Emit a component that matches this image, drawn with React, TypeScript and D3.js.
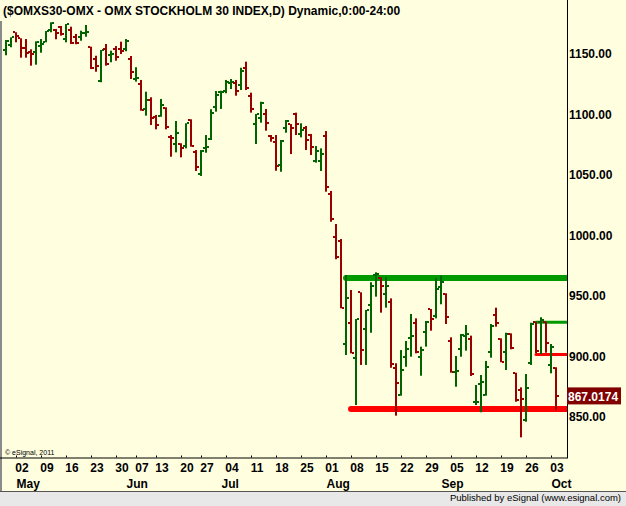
import { useEffect, useRef } from "react";
import * as d3 from "d3";

// OHLC, one entry per trading day, 27 Apr 2011 .. 03 Oct 2011
const opens = [
  1153.1, 1157.3, 1167.8, 1162.8, 1154.8, 1151.2, 1151.2, 1156.7, 1159.5, 1169.7,
  1169.7, 1172.4, 1162.2, 1169.7, 1164.1, 1164.1, 1167.0, 1155.9, 1146.0, 1127.8,
  1153.7, 1149.0, 1153.7, 1153.7, 1154.0, 1145.5, 1129.5, 1125.1, 1104.2, 1111.8,
  1098.0, 1098.9, 1105.0, 1081.0, 1075.5, 1075.5, 1073.8, 1095.3, 1069.1, 1050.7,
  1072.5, 1079.6, 1105.8, 1118.2, 1119.5, 1126.1, 1126.1, 1124.2, 1138.0, 1115.1,
  1091.8, 1096.7, 1100.3, 1082.4, 1076.9, 1058.2, 1088.5, 1092.0, 1100.3, 1083.5,
  1088.5, 1082.9, 1061.7, 1061.5, 1082.1, 1034.2, 998.4, 995.6, 910.1, 927.4,
  898.5, 953.0, 922.4, 942.5, 967.3, 964.6, 951.4, 945.2, 890.2, 868.2,
  899.8, 915.0, 927.4, 899.8, 920.0, 939.0, 933.4, 957.1, 951.4, 912.8,
  887.0, 905.9, 916.9, 914.2, 862.2, 877.3, 868.2, 903.4, 934.3, 914.4,
  903.4, 918.6, 886.1, 872.3, 847.5, 894.4, 928.7, 928.7, 928.7, 893.0,
  890.2,
];
const highs = [
  1161.4, 1163.6, 1167.8, 1162.8, 1162.2, 1153.7, 1160.3, 1162.2, 1168.8, 1176.0,
  1170.5, 1173.0, 1174.6, 1172.4, 1166.4, 1169.1, 1173.8, 1155.9, 1148.4, 1153.1,
  1158.1, 1152.6, 1156.4, 1160.0, 1162.2, 1148.2, 1138.9, 1128.4, 1118.7, 1114.1,
  1099.5, 1112.7, 1105.8, 1082.9, 1094.5, 1076.1, 1092.6, 1095.9, 1070.5, 1070.5,
  1082.9, 1104.2, 1119.3, 1119.5, 1128.4, 1129.2, 1128.4, 1138.5, 1143.5, 1117.9,
  1100.3, 1110.4, 1104.4, 1082.9, 1082.9, 1078.8, 1095.3, 1092.0, 1101.4, 1092.6,
  1090.4, 1083.8, 1073.8, 1071.9, 1086.2, 1036.7, 1009.4, 997.0, 967.3, 954.9,
  930.9, 953.0, 938.4, 961.3, 969.5, 965.4, 965.4, 948.0, 894.4, 905.3,
  912.8, 935.1, 931.5, 908.1, 929.3, 939.2, 964.6, 966.7, 952.2, 915.8,
  900.4, 918.6, 926.0, 917.2, 876.4, 884.7, 896.3, 926.8, 940.3, 915.0,
  919.6, 919.1, 886.6, 874.5, 885.5, 927.9, 928.7, 932.4, 928.7, 910.3,
  891.1,
];
const lows = [
  1148.8, 1155.4, 1159.5, 1146.8, 1146.8, 1140.2, 1141.0, 1150.9, 1159.5, 1167.8,
  1162.0, 1165.0, 1159.5, 1158.1, 1157.9, 1160.8, 1164.1, 1137.4, 1135.2, 1126.5,
  1140.2, 1143.0, 1144.3, 1149.8, 1152.1, 1129.2, 1127.0, 1103.0, 1098.9, 1091.2,
  1087.6, 1098.0, 1087.6, 1065.0, 1068.6, 1064.5, 1071.9, 1073.3, 1053.2, 1049.1,
  1068.3, 1078.8, 1102.2, 1104.4, 1117.4, 1120.9, 1115.4, 1120.1, 1120.1, 1101.4,
  1075.5, 1093.1, 1086.5, 1077.4, 1053.4, 1052.6, 1084.8, 1067.2, 1082.9, 1081.0,
  1070.5, 1066.4, 1060.1, 1053.2, 1036.1, 1011.3, 980.3, 939.8, 901.2, 902.6,
  859.9, 893.0, 893.0, 919.6, 949.4, 936.2, 940.3, 890.7, 851.1, 867.6,
  891.5, 899.8, 902.6, 884.1, 908.1, 921.3, 931.5, 943.1, 926.8, 886.6,
  875.0, 899.8, 904.8, 883.9, 859.9, 853.9, 867.6, 899.0, 924.6, 895.2,
  888.8, 905.9, 862.6, 833.2, 846.1, 893.0, 902.6, 902.0, 903.1, 886.1,
  855.8,
];
const closes = [
  1160.6, 1163.6, 1164.7, 1154.5, 1150.7, 1149.8, 1159.5, 1158.1, 1168.8, 1175.2,
  1166.9, 1166.4, 1174.4, 1158.7, 1159.2, 1167.4, 1168.0, 1138.0, 1140.2, 1153.1,
  1141.3, 1149.8, 1147.6, 1152.3, 1160.8, 1134.7, 1130.0, 1103.6, 1111.8, 1096.7,
  1091.2, 1107.7, 1089.8, 1080.2, 1084.3, 1071.9, 1092.6, 1073.8, 1056.7, 1070.0,
  1073.0, 1101.4, 1116.0, 1118.7, 1126.5, 1126.5, 1119.5, 1135.8, 1121.5, 1104.2,
  1100.0, 1109.6, 1092.6, 1080.2, 1057.3, 1078.2, 1094.7, 1088.5, 1091.8, 1087.1,
  1078.8, 1072.8, 1069.7, 1067.0, 1039.7, 1013.3, 982.4, 939.8, 948.0, 902.6,
  930.9, 905.3, 938.4, 958.2, 968.1, 958.2, 958.2, 893.5, 877.8, 888.8,
  905.9, 916.9, 903.4, 905.3, 928.7, 930.7, 955.5, 961.8, 932.4, 887.4,
  888.0, 917.7, 918.6, 885.3, 862.8, 878.7, 891.1, 925.2, 927.4, 895.7,
  918.6, 906.7, 864.0, 864.6, 874.2, 926.8, 904.8, 930.1, 910.9, 907.6,
  867.0174,
];

// weekly date labels (bar index, label) and month labels
const weekIdx = [3, 8, 13, 18, 23, 27, 31, 36, 40, 45, 50, 55, 60, 65, 70, 75, 80, 85, 90, 95, 100, 105, 110];
const weekLabels = ["02", "09", "16", "23", "30", "07", "13", "20", "27", "04", "11", "18", "25", "01", "08", "15", "22", "29", "05", "12", "19", "26", "03"];
const monthIdx = [3, 25, 44, 65, 88, 110];
const monthLabels = ["May", "Jun", "Jul", "Aug", "Sep", "Oct"];

const priceTicks = [850, 900, 950, 1000, 1050, 1100, 1150];

// drawn horizontal levels: price and starting bar
const levelValues = [964.8, 856.6, 928.2, 901.6];
const levelStarts = [68, 69, 106, 106];

const W = 626;
const H = 506;
const FONT = "'Liberation Sans', Arial, sans-serif";
const COLORS = {
  bg: "#FFFFE0",
  up: "#006400",
  down: "#990000",
  levelUp: "#009900",
  levelDown: "#FF0000",
  lastBox: "#800000",
  footer: "#E8E8E8",
};
const levelColors = [COLORS.levelUp, COLORS.levelDown, COLORS.levelUp, COLORS.levelDown];
const levelWidths = [6, 6, 3, 3];

const plot = { left: 2, right: 567, top: 21, bottom: 457.5 };

export default function App() {
  const svgRef = useRef<SVGSVGElement>(null);

  useEffect(() => {
    if (!svgRef.current) return;
    const svg = d3.select(svgRef.current);
    svg.selectAll("*").remove();

    const x = d3.scaleLinear().domain([0, 110]).range([6, 556]);
    const y = d3.scaleLinear().domain([850, 1150]).range([417, 53.8]);

    // background + footer
    svg.append("rect").attr("width", W).attr("height", H).attr("fill", COLORS.bg);
    svg.append("rect").attr("x", 0).attr("y", 491).attr("width", W).attr("height", H - 491).attr("fill", COLORS.footer);
    svg.append("line").attr("x1", 0).attr("x2", W).attr("y1", 491.5).attr("y2", 491.5).attr("stroke", "#555").attr("stroke-width", 1);
    svg.append("rect").attr("x", 0).attr("y", plot.top).attr("width", 2).attr("height", 491 - plot.top).attr("fill", "#8a8a8a");

    svg.append("text")
      .attr("x", 3).attr("y", 15)
      .attr("font-family", FONT).attr("font-size", 12).attr("font-weight", "bold")
      .attr("fill", "#000")
      .text("($OMXS30-OMX - OMX STOCKHOLM 30 INDEX,D) Dynamic,0:00-24:00");

    svg.append("defs").append("clipPath").attr("id", "plotClip")
      .append("rect")
      .attr("x", plot.left).attr("y", plot.top)
      .attr("width", plot.right - plot.left).attr("height", plot.bottom - plot.top);

    const g = svg.append("g").attr("clip-path", "url(#plotClip)");

    // level lines under the bars
    levelValues.forEach((v, i) => {
      g.append("line")
        .attr("x1", x(levelStarts[i])).attr("x2", plot.right + 10)
        .attr("y1", y(v)).attr("y2", y(v))
        .attr("stroke", levelColors[i])
        .attr("stroke-width", levelWidths[i])
        .attr("stroke-linecap", "round");
    });

    // OHLC bars
    const bars = g.append("g");
    closes.forEach((c, i) => {
      const color = c >= opens[i] ? COLORS.up : COLORS.down;
      const cx = x(i);
      bars.append("rect")
        .attr("x", cx - 1).attr("y", y(highs[i]))
        .attr("width", 2).attr("height", Math.max(1, y(lows[i]) - y(highs[i])))
        .attr("fill", color);
      bars.append("rect")
        .attr("x", cx - 3).attr("y", Math.round(y(opens[i])) - 1)
        .attr("width", 2).attr("height", 2).attr("fill", color);
      bars.append("rect")
        .attr("x", cx + 1).attr("y", Math.round(y(c)) - 1)
        .attr("width", 2).attr("height", 2).attr("fill", color);
    });

    // axes frame
    svg.append("line")
      .attr("x1", plot.right + 0.5).attr("x2", plot.right + 0.5)
      .attr("y1", 0).attr("y2", plot.bottom + 0.5)
      .attr("stroke", "#000").attr("stroke-width", 1);
    svg.append("line")
      .attr("x1", 0).attr("x2", plot.right + 1)
      .attr("y1", plot.bottom + 0.5).attr("y2", plot.bottom + 0.5)
      .attr("stroke", "#000").attr("stroke-width", 1);

    // price axis labels
    svg.append("g").selectAll("text").data(priceTicks).join("text")
      .attr("x", 569).attr("y", (d) => y(d)).attr("dy", "0.36em")
      .attr("font-family", FONT).attr("font-size", 12).attr("font-weight", "bold")
      .attr("fill", "#000")
      .text((d) => d3.format(".2f")(d));

    // last price box
    const last = closes[closes.length - 1];
    svg.append("rect")
      .attr("x", 567).attr("y", y(last) - 9).attr("width", 54).attr("height", 17)
      .attr("fill", COLORS.lastBox);
    svg.append("text")
      .attr("x", 568).attr("y", y(last)).attr("dy", "0.36em")
      .attr("font-family", FONT).attr("font-size", 12).attr("font-weight", "bold")
      .attr("fill", "#fff")
      .text(d3.format(".4f")(last));

    // date axis
    const ax = svg.append("g");
    weekIdx.forEach((idx, i) => {
      ax.append("line")
        .attr("x1", x(idx) - 4.5).attr("x2", x(idx) - 4.5)
        .attr("y1", plot.bottom - 2).attr("y2", plot.bottom)
        .attr("stroke", "#000").attr("stroke-width", 1);
      ax.append("text")
        .attr("x", x(idx) + 1).attr("y", 472)
        .attr("text-anchor", "middle")
        .attr("font-family", FONT).attr("font-size", 12).attr("font-weight", "bold")
        .attr("fill", "#000")
        .text(weekLabels[i]);
    });
    monthIdx.forEach((idx, i) => {
      ax.append("text")
        .attr("x", x(idx) - 4.5).attr("y", 488)
        .attr("font-family", FONT).attr("font-size", 12).attr("font-weight", "bold")
        .attr("fill", "#000")
        .text(monthLabels[i]);
    });

    svg.append("text")
      .attr("x", 5).attr("y", 455)
      .attr("font-family", FONT).attr("font-size", 7)
      .attr("fill", "#000")
      .text("© eSignal, 2011");

    svg.append("text")
      .attr("x", 621).attr("y", 501)
      .attr("text-anchor", "end")
      .attr("font-family", FONT).attr("font-size", 9.5)
      .attr("fill", "#000")
      .text("Published by eSignal (www.esignal.com)");
  }, []);

  return (
    <svg
      ref={svgRef}
      width={W}
      height={H}
      style={{ position: "absolute", left: 0, top: 0, display: "block" }}
    />
  );
}
